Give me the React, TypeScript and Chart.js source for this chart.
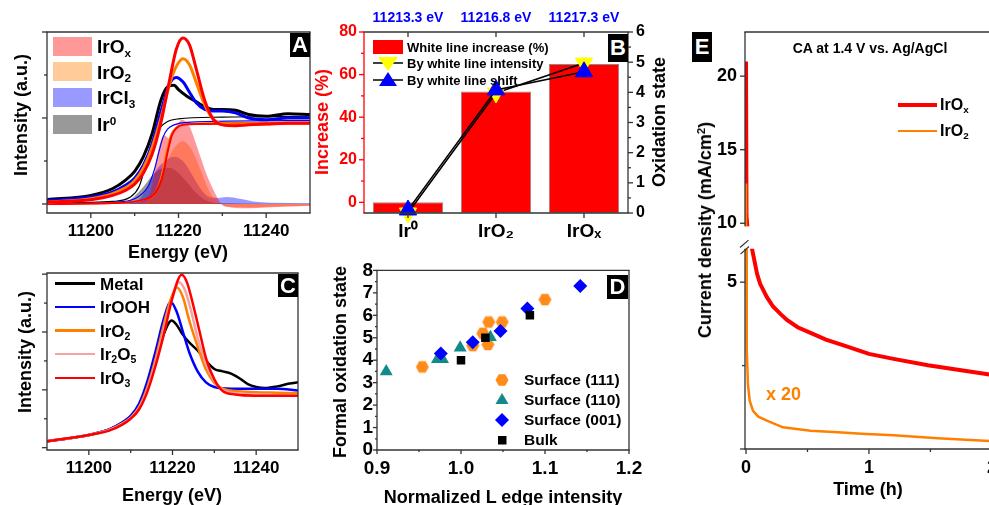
import React, { useEffect, useRef } from "react";
import { Chart, registerables } from "chart.js";
Chart.register(...registerables);

const FONT = "'Liberation Sans', Arial, Helvetica, sans-serif";
const AX = "#333";

// ---------------- Panel A : XANES ----------------
const aEnergyMain = [11190, 11200, 11205, 11208, 11210, 11212, 11214, 11216, 11218, 11219.5, 11221, 11222.5, 11224, 11226, 11228, 11230, 11233, 11236, 11240, 11245, 11250];
const aEnergyIr0 = [11190, 11200, 11205, 11208, 11210, 11212, 11214, 11216, 11217.5, 11219, 11220, 11222, 11224, 11226, 11228, 11230, 11233, 11236, 11240, 11245, 11250];
const aIr0 = [0.05, 0.1, 0.18, 0.28, 0.38, 0.55, 0.82, 1.21, 1.36, 1.38, 1.33, 1.25, 1.19, 1.13, 1.1, 1.1, 1.09, 1.04, 1.02, 1.05, 1.04];
const aIrCl3 = [0.04, 0.08, 0.14, 0.22, 0.3, 0.45, 0.7, 1.08, 1.4, 1.47, 1.42, 1.3, 1.18, 1.1, 1.08, 1.08, 1.06, 1.0, 0.98, 1.0, 1.0];
const aIrO2 = [0.02, 0.06, 0.12, 0.19, 0.27, 0.42, 0.66, 1.0, 1.4, 1.6, 1.69, 1.62, 1.42, 1.15, 0.98, 0.93, 0.92, 0.93, 0.93, 0.94, 0.94];
const aIrOx = [0.02, 0.05, 0.1, 0.16, 0.23, 0.36, 0.58, 0.95, 1.45, 1.8, 1.93, 1.85, 1.58, 1.2, 0.98, 0.92, 0.91, 0.92, 0.93, 0.94, 0.94];

const aStepIr0E = [11190, 11205, 11209, 11211, 11212.5, 11213.5, 11214.5, 11215.6, 11217.5, 11220, 11230, 11250];
const aStepIr0V = [0.01, 0.03, 0.08, 0.2, 0.45, 0.65, 0.8, 0.88, 0.96, 0.99, 1.01, 1.02];
const aStepIrCl3E = [11190, 11205, 11210, 11213, 11214.5, 11215.5, 11216.5, 11217.5, 11219, 11222, 11250];
const aStepIrCl3V = [0, 0.02, 0.06, 0.2, 0.4, 0.6, 0.78, 0.87, 0.92, 0.95, 0.97];
const aStepIrO2E = [11190, 11205, 11212, 11215, 11216.2, 11217.2, 11218.2, 11219.2, 11221, 11225, 11250];
const aStepIrO2V = [0, 0.01, 0.05, 0.15, 0.35, 0.6, 0.8, 0.88, 0.92, 0.94, 0.95];
const aStepIrOxE = [11190, 11205, 11212, 11215, 11216.5, 11217.5, 11218.5, 11219.5, 11221, 11225, 11250];
const aStepIrOxV = [0, 0.01, 0.05, 0.15, 0.35, 0.6, 0.8, 0.88, 0.92, 0.93, 0.94];

const aFillIrOxE = [11209, 11212, 11213.7, 11215.6, 11216.7, 11218, 11219.5, 11220.8, 11222.5, 11224, 11225, 11226.5, 11228, 11229.8, 11232, 11236, 11240, 11245, 11250];
const aFillIrOxV = [0, 0.04, 0.16, 0.67, 0.8, 0.76, 0.9, 0.98, 0.9, 0.7, 0.55, 0.33, 0.16, 0, -0.04, -0.05, -0.04, -0.03, -0.02];
const aFillIrO2E = [11210, 11213, 11215, 11217, 11219, 11221, 11223, 11225, 11227, 11229, 11231, 11236, 11242, 11250];
const aFillIrO2V = [0, 0.05, 0.2, 0.45, 0.65, 0.73, 0.63, 0.4, 0.15, 0.02, -0.03, -0.04, -0.03, -0.02];
const aFillIrCl3E = [11208, 11211, 11213, 11215, 11217, 11219, 11221, 11223, 11225, 11227, 11229, 11231, 11234, 11237, 11241, 11250];
const aFillIrCl3V = [0, 0.05, 0.2, 0.4, 0.5, 0.55, 0.5, 0.35, 0.18, 0.08, 0.07, 0.08, 0.06, 0.03, 0.015, 0.01];
const aFillIr0E = [11205, 11209, 11212, 11214, 11216, 11218, 11220, 11222, 11224, 11226, 11229, 11250];
const aFillIr0V = [0, 0.05, 0.2, 0.33, 0.41, 0.42, 0.36, 0.25, 0.13, 0.05, 0.01, 0];

const energyTicks = [11200, 11220, 11240];
const energyMinor = [11210, 11230];

// ---------------- Panel B ----------------
const bCategories = ["Ir\u2070", "IrO\u2082", "IrO\u2093"];
const bEdgeEnergies = ["11213.3 eV", "11216.8 eV", "11217.3 eV"];
const bIncrease = [0, 52, 65];
const bOxByIntensity = [0, 3.98, 4.97];
const bOxByShift = [0.1, 4.08, 4.68];
const bLeftTicks = [0, 20, 40, 60, 80];
const bRightTicks = [0, 1, 2, 3, 4, 5, 6];

// ---------------- Panel C ----------------
const cMetalE = [11190, 11200, 11205, 11208, 11210, 11212, 11214, 11216, 11218, 11219.8, 11221, 11222.5, 11224, 11226, 11228, 11230, 11232, 11234, 11236, 11238, 11240, 11242, 11245, 11248, 11250];
const cMetalV = [0.11, 0.22, 0.32, 0.43, 0.53, 0.72, 1.05, 1.5, 1.98, 2.2, 2.12, 1.95, 1.82, 1.68, 1.5, 1.36, 1.32, 1.28, 1.2, 1.1, 1.05, 1.03, 1.06, 1.11, 1.13];
const cIrOOHE = [11190, 11200, 11205, 11208, 11210, 11212, 11214, 11216, 11218, 11219.6, 11221, 11222.5, 11224, 11226, 11228, 11230, 11234, 11240, 11245, 11250];
const cIrOOHV = [0.11, 0.22, 0.32, 0.44, 0.55, 0.76, 1.15, 1.68, 2.25, 2.52, 2.35, 2.0, 1.65, 1.32, 1.13, 1.05, 1.02, 1.02, 1.02, 0.99];
const cIrO2E = [11190, 11200, 11205, 11208, 11210, 11212, 11214, 11216, 11218, 11219.5, 11221.1, 11222.5, 11224, 11226, 11228, 11230, 11232, 11235, 11240, 11245, 11250];
const cIrO2V = [0.11, 0.22, 0.31, 0.42, 0.52, 0.7, 1.05, 1.55, 2.15, 2.55, 2.77, 2.6, 2.2, 1.75, 1.35, 1.12, 1.02, 0.98, 0.96, 0.95, 0.94];
const cIr2O5E = [11190, 11200, 11205, 11208, 11210, 11212, 11214, 11216, 11218, 11220, 11221.5, 11223, 11224.5, 11226, 11228, 11230, 11232, 11235, 11240, 11250];
const cIr2O5V = [0.11, 0.22, 0.31, 0.41, 0.51, 0.68, 1.0, 1.48, 2.05, 2.6, 2.86, 2.72, 2.35, 1.9, 1.45, 1.15, 1.0, 0.94, 0.92, 0.9];
const cIrO3E = [11190, 11200, 11205, 11208, 11210, 11212, 11214, 11216, 11218, 11220, 11222.2, 11223.5, 11225, 11226.5, 11228, 11230, 11232, 11235, 11240, 11250];
const cIrO3V = [0.11, 0.22, 0.3, 0.4, 0.5, 0.66, 0.97, 1.43, 1.98, 2.6, 2.99, 2.85, 2.45, 2.0, 1.55, 1.18, 0.98, 0.92, 0.9, 0.9];

// ---------------- Panel D ----------------
const dS111X = [0.954, 1.014, 1.026, 1.032, 1.033, 1.049, 1.1];
const dS111Y = [3.7, 4.65, 5.2, 4.7, 5.7, 5.7, 6.7];
const dS110X = [0.911, 0.972, 0.978, 0.999, 1.035];
const dS110Y = [3.5, 4.04, 4.04, 4.55, 5.02];
const dS001X = [0.976, 1.014, 1.047, 1.079, 1.142];
const dS001Y = [4.3, 4.8, 5.3, 6.3, 7.3];
const dBulkX = [1.0, 1.029, 1.082];
const dBulkY = [4.0, 5.0, 6.0];
const dXTicks = [0.9, 1.0, 1.1, 1.2];
const dYTicks = [0, 1, 2, 3, 4, 5, 6, 7, 8];

// ---------------- Panel E ----------------
const eIrOxT = [0, 0.004, 0.049, 0.09, 0.115, 0.17, 0.22, 0.28, 0.333, 0.42, 0.525, 0.65, 0.8, 1.0, 1.2, 1.48, 1.75, 1.98, 2.03];
const eIrOxJ = [21, 10.5, 6.0, 5.25, 4.95, 4.55, 4.27, 4.05, 3.87, 3.65, 3.48, 3.28, 3.1, 2.85, 2.7, 2.51, 2.36, 2.23, 2.21];
const eIrO2T = [0, 0.002, 0.006, 0.016, 0.03, 0.057, 0.1, 0.17, 0.3, 0.525, 0.75, 0.94, 1.2, 1.56, 1.98, 2.03];
const eIrO2J = [12.7, 6.5, 3.0, 1.93, 1.45, 1.14, 0.97, 0.85, 0.65, 0.55, 0.5, 0.46, 0.41, 0.32, 0.24, 0.24];
const eTimeTicks = [0, 1, 2];
const eUpperTicks = [10, 15, 20];
const eLowerTicks = [5];

// ---------------- helpers ----------------
const pts = (xs: number[], ys: number[]) => xs.map((x, i) => ({ x, y: ys[i] }));
const fnt = (size: number) => ({ family: FONT, size, weight: "bold" as const });

const lineDs = (xs: number[], ys: number[], color: string, width: number, extra: any = {}) => ({
  type: "line",
  data: pts(xs, ys),
  borderColor: color,
  borderWidth: width,
  pointRadius: 0,
  cubicInterpolationMode: "monotone",
  fill: false,
  ...extra,
});
const fillDs = (xs: number[], ys: number[], color: string, order: number) =>
  lineDs(xs, ys, "rgba(0,0,0,0)", 0, { fill: "origin", backgroundColor: color, order });

function linAxis(pos: string, min: number, max: number, labeled: number[], size: number, pad: number, fit: number, fmt: (v: number) => string, color = "#000", showLabels = true, display = true) {
  const horiz = pos === "bottom" || pos === "top";
  return {
    type: "linear",
    position: pos,
    min,
    max,
    display,
    grid: { display: false, drawTicks: false },
    border: { display: false },
    ticks: { display: showLabels, font: fnt(size), color, padding: pad, maxRotation: 0, autoSkip: false, callback: (v: number) => fmt(v) },
    afterBuildTicks: (s: any) => {
      s.ticks = labeled.map((v) => ({ value: v }));
    },
    afterFit: (s: any) => {
      if (horiz) s.height = fit;
      else s.width = fit;
    },
  };
}

const framePlugin = {
  id: "frame",
  afterDraw(chart: any, _a: any, o: any) {
    const { ctx, chartArea: a } = chart;
    const w = o.width ?? 1.3;
    ctx.save();
    const seg = (x1: number, y1: number, x2: number, y2: number, c: string, lw = w) => {
      ctx.beginPath();
      ctx.strokeStyle = c;
      ctx.lineWidth = lw;
      ctx.moveTo(x1, y1);
      ctx.lineTo(x2, y2);
      ctx.stroke();
    };
    const s = o.sides || {};
    if (s.top) seg(a.left - w / 2, a.top, a.right + w / 2, a.top, s.top);
    if (s.bottom) seg(a.left - w / 2, a.bottom, a.right + w / 2, a.bottom, s.bottom);
    if (s.left) seg(a.left, a.top, a.left, a.bottom, s.left);
    if (s.right) seg(a.right, a.top, a.right, a.bottom, s.right);
    const ticks = o.ticks || [];
    for (let k = 0; k < ticks.length; k++) {
      const t = ticks[k];
      const sc = chart.scales[t.axis];
      const c = t.color || AX;
      const d = t.out ? 1 : -1;
      for (let i = 0; i < t.values.length; i++) {
        const p = sc.getPixelForValue(t.values[i]);
        if (t.side === "bottom") seg(p, a.bottom, p, a.bottom + d * t.len, c);
        else if (t.side === "top") seg(p, a.top, p, a.top - d * t.len, c);
        else if (t.side === "left") seg(a.left, p, a.left - d * t.len, p, c);
        else seg(a.right, p, a.right + d * t.len, p, c);
      }
    }
    if (o.breakTop) {
      for (const x of [a.left, a.right]) {
        seg(x - 5, a.top - 1.3, x + 3.5, a.top - 8.7, AX, 1.2);
        seg(x - 4.5, a.top + 5.3, x + 4, a.top - 2.3, AX, 1.2);
      }
    }
    if (o.topLabels) {
      const tl = o.topLabels;
      const sc = chart.scales[tl.axis];
      ctx.fillStyle = tl.color;
      ctx.font = `bold ${tl.size}px ${FONT}`;
      ctx.textAlign = "center";
      ctx.textBaseline = "middle";
      for (let i = 0; i < tl.texts.length; i++) ctx.fillText(tl.texts[i], sc.getPixelForValue(i), tl.y);
    }
    ctx.restore();
  },
};

const baseOpts = (padding: any, scales: any, frame: any) => ({
  responsive: false,
  animation: false,
  devicePixelRatio: 1,
  events: [],
  layout: { padding },
  scales,
  plugins: { legend: { display: false }, tooltip: { enabled: false }, title: { display: false }, frame },
});

function hexagonStyle(r: number, color: string) {
  const c = document.createElement("canvas");
  const s = Math.ceil(r * 2 + 2);
  c.width = s;
  c.height = s;
  const g = c.getContext("2d")!;
  g.fillStyle = color;
  g.beginPath();
  for (let i = 0; i < 6; i++) {
    const ang = (Math.PI / 3) * i;
    const x = s / 2 + r * Math.cos(ang);
    const y = s / 2 + r * Math.sin(ang);
    if (i === 0) g.moveTo(x, y);
    else g.lineTo(x, y);
  }
  g.closePath();
  g.fill();
  return c;
}

const Sub = ({ t }: { t: string }) => <span style={{ fontSize: "0.62em", position: "relative", top: "0.32em" }}>{t}</span>;
const Sup = ({ t }: { t: string }) => <span style={{ fontSize: "0.62em", position: "relative", top: "-0.5em" }}>{t}</span>;

const Txt = ({ x, y, size = 18, color = "#000", anchor = "center", rotate = false, children }: any) => (
  <div
    style={{
      position: "absolute",
      left: x,
      top: y,
      transform: `translate(${anchor === "center" ? "-50%" : anchor === "right" ? "-100%" : "0"}, -50%)${rotate ? " rotate(-90deg)" : ""}`,
      fontSize: size,
      color,
      whiteSpace: "nowrap",
      lineHeight: 1,
      fontWeight: 700,
    }}
  >
    {children}
  </div>
);

const Letter = ({ x, y, w, h, t }: any) => (
  <div style={{ position: "absolute", left: x, top: y, width: w, height: h, background: "#000", color: "#fff", fontSize: 22, fontWeight: 700, display: "flex", alignItems: "center", justifyContent: "center", lineHeight: 1 }}>{t}</div>
);

export default function App() {
  const refA = useRef<HTMLCanvasElement>(null);
  const refB = useRef<HTMLCanvasElement>(null);
  const refC = useRef<HTMLCanvasElement>(null);
  const refD = useRef<HTMLCanvasElement>(null);
  const refE1 = useRef<HTMLCanvasElement>(null);
  const refE2 = useRef<HTMLCanvasElement>(null);

  useEffect(() => {
    const charts: Chart[] = [];
    const fmtInt = (v: number) => String(v);

    // Panel A
    charts.push(
      new Chart(refA.current as any, {
        type: "line",
        data: {
          datasets: [
            lineDs(aEnergyMain, aIrOx, "#ff0000", 3, { order: 0 }),
            lineDs(aEnergyMain, aIrO2, "#ff8000", 3, { order: 1 }),
            lineDs(aEnergyMain, aIrCl3, "#0000ff", 3, { order: 2 }),
            lineDs(aEnergyIr0, aIr0, "#000000", 3, { order: 3 }),
            lineDs(aStepIrOxE, aStepIrOxV, "#ff0000", 2, { order: 4 }),
            lineDs(aStepIrO2E, aStepIrO2V, "#ff8000", 1.5, { order: 5 }),
            lineDs(aStepIrCl3E, aStepIrCl3V, "#0000ff", 1.2, { order: 6 }),
            lineDs(aStepIr0E, aStepIr0V, "#000000", 1.2, { order: 7 }),
            fillDs(aFillIrOxE, aFillIrOxV, "rgba(255,0,0,0.4)", 8),
            fillDs(aFillIrO2E, aFillIrO2V, "rgba(255,128,0,0.4)", 9),
            fillDs(aFillIrCl3E, aFillIrCl3V, "rgba(0,0,255,0.4)", 10),
            fillDs(aFillIr0E, aFillIr0V, "rgba(0,0,0,0.4)", 11),
          ] as any,
        },
        options: baseOpts(
          { left: 0, top: 32, right: 20, bottom: 0 },
          {
            x: linAxis("bottom", 11190, 11250, energyTicks, 17, 8, 37, fmtInt),
            y: linAxis("left", -0.105, 2.0, [0, 1, 2], 10, 0, 47, fmtInt, "#000", false),
          },
          {
            sides: { top: AX, bottom: AX, left: AX, right: AX },
            ticks: [
              { axis: "x", values: energyTicks, side: "bottom", len: 5, out: true },
              { axis: "x", values: energyMinor, side: "bottom", len: 3, out: true },
              { axis: "y", values: [0, 1, 2], side: "left", len: 5, out: true },
              { axis: "y", values: [0.5, 1.5], side: "left", len: 3, out: true },
            ],
          }
        ) as any,
        plugins: [framePlugin],
      })
    );

    // Panel B
    charts.push(
      new Chart(refB.current as any, {
        type: "bar",
        data: {
          labels: bCategories,
          datasets: [
            {
              type: "line",
              data: bOxByShift,
              yAxisID: "y2",
              borderColor: "#000",
              borderWidth: 1.5,
              pointStyle: "triangle",
              pointRadius: 10,
              pointBackgroundColor: "#0000ff",
              pointBorderColor: "#0000ff",
              pointBorderWidth: 1,
              clip: false,
              order: 0,
            },
            {
              type: "line",
              data: bOxByIntensity,
              yAxisID: "y2",
              borderColor: "#000",
              borderWidth: 1.5,
              pointStyle: "triangle",
              pointRotation: 180,
              pointRadius: 10,
              pointBackgroundColor: "#ffff00",
              pointBorderColor: "#ffff00",
              pointBorderWidth: 1,
              clip: false,
              order: 1,
            },
            {
              type: "bar",
              data: bIncrease,
              yAxisID: "y",
              base: -5,
              backgroundColor: "#ff0000",
              borderColor: "#8a8a8a",
              borderWidth: 1,
              borderSkipped: false,
              barPercentage: 0.8,
              categoryPercentage: 1,
              order: 2,
            },
          ] as any,
        },
        options: baseOpts(
          { left: 0, top: 32, right: 7, bottom: 0 },
          {
            x: {
              type: "category",
              offset: true,
              grid: { display: false, drawTicks: false },
              border: { display: false },
              ticks: { font: fnt(19), color: "#000", padding: 7, maxRotation: 0 },
              afterFit: (s: any) => {
                s.height = 42;
              },
            },
            y: linAxis("left", -5, 80, bLeftTicks, 16, 7, 44, fmtInt, "#ff0000"),
            y2: linAxis("right", 0, 6, bRightTicks, 16, 8, 30, fmtInt, "#000"),
          },
          {
            sides: { top: AX, bottom: AX, left: "#ff0000", right: AX },
            ticks: [
              { axis: "x", values: [0, 1, 2], side: "top", len: 5, out: false },
              { axis: "x", values: [0, 1, 2], side: "bottom", len: 5, out: true },
              { axis: "y", values: bLeftTicks, side: "left", len: 5, out: true, color: "#ff0000" },
              { axis: "y", values: [10, 30, 50, 70], side: "left", len: 3, out: true, color: "#ff0000" },
              { axis: "y2", values: bRightTicks, side: "right", len: 5, out: true },
              { axis: "y2", values: [0.5, 1.5, 2.5, 3.5, 4.5, 5.5], side: "right", len: 3, out: true },
            ],
            topLabels: { axis: "x", texts: bEdgeEnergies, y: 18, color: "#0000ff", size: 14 },
          }
        ) as any,
        plugins: [framePlugin],
      })
    );

    // Panel C
    charts.push(
      new Chart(refC.current as any, {
        type: "line",
        data: {
          datasets: [
            lineDs(cIrO3E, cIrO3V, "#ff0000", 2.5, { order: 0 }),
            lineDs(cIr2O5E, cIr2O5V, "#f7a1a1", 2.5, { order: 1 }),
            lineDs(cIrO2E, cIrO2V, "#ff8000", 2.5, { order: 2 }),
            lineDs(cIrOOHE, cIrOOHV, "#0000ff", 2.5, { order: 3 }),
            lineDs(cMetalE, cMetalV, "#000000", 2.5, { order: 4 }),
          ] as any,
        },
        options: baseOpts(
          { left: 0, top: 18, right: 22, bottom: 0 },
          {
            x: linAxis("bottom", 11190, 11250, energyTicks, 17, 8, 55, fmtInt),
            y: linAxis("left", -0.04, 3.02, [0, 1, 2, 3], 10, 0, 47, fmtInt, "#000", false),
          },
          {
            sides: { top: AX, bottom: AX, left: AX, right: AX },
            ticks: [
              { axis: "x", values: energyTicks, side: "bottom", len: 5, out: true },
              { axis: "x", values: energyMinor, side: "bottom", len: 3, out: true },
              { axis: "y", values: [0, 1, 2, 3], side: "left", len: 5, out: true },
              { axis: "y", values: [0.5, 1.5, 2.5], side: "left", len: 3, out: true },
            ],
          }
        ) as any,
        plugins: [framePlugin],
      })
    );

    // Panel D
    const hex = hexagonStyle(6.5, "#ff8c1a");
    charts.push(
      new Chart(refD.current as any, {
        type: "scatter",
        data: {
          datasets: [
            { data: pts(dBulkX, dBulkY), pointStyle: "rect", pointRadius: 6, backgroundColor: "#000", borderColor: "#000", borderWidth: 0, order: 0 },
            { data: pts(dS001X, dS001Y), pointStyle: "rectRot", pointRadius: 7, backgroundColor: "#0000ff", borderColor: "#0000ff", borderWidth: 0, order: 1 },
            { data: pts(dS110X, dS110Y), pointStyle: "triangle", pointRadius: 7.5, backgroundColor: "#138a8a", borderColor: "#138a8a", borderWidth: 0, order: 2 },
            { data: pts(dS111X, dS111Y), pointStyle: hex, pointRadius: 7, backgroundColor: "#ff8c1a", borderColor: "#ff8c1a", borderWidth: 0, order: 3 },
          ] as any,
        },
        options: baseOpts(
          { left: 0, top: 13, right: 21, bottom: 0 },
          {
            x: linAxis("bottom", 0.9, 1.2, dXTicks, 19, 7, 55, (v) => v.toFixed(1)),
            y: linAxis("left", 0, 8, dYTicks, 19, 4, 47, fmtInt),
          },
          {
            sides: { top: AX, bottom: AX, left: AX, right: AX },
            ticks: [
              { axis: "x", values: dXTicks, side: "bottom", len: 4, out: true },
              { axis: "x", values: [0.95, 1.05, 1.15], side: "bottom", len: 2, out: true },
              { axis: "y", values: dYTicks, side: "left", len: 4, out: true },
              { axis: "y", values: [0.5, 1.5, 2.5, 3.5, 4.5, 5.5, 6.5, 7.5], side: "left", len: 2, out: true },
            ],
          }
        ) as any,
        plugins: [framePlugin],
      })
    );

    // Panel E (broken axis: upper + lower)
    const eDatasets = () => [
      lineDs(eIrO2T, eIrO2J, "#ff8000", 2.5, { order: 0, clip: 0, cubicInterpolationMode: "default", tension: 0 }),
      lineDs(eIrOxT, eIrOxJ, "#ff0000", 4, { order: 1, clip: 0, cubicInterpolationMode: "default", tension: 0 }),
    ];
    charts.push(
      new Chart(refE1.current as any, {
        type: "line",
        data: { datasets: eDatasets() as any },
        options: baseOpts(
          { left: 0, top: 32, right: 10.5, bottom: 5 },
          {
            x: linAxis("bottom", -0.0081, 2.02, eTimeTicks, 17, 8, 0, fmtInt, "#000", false, false),
            y: linAxis("left", 9.8, 23.0, eUpperTicks, 18, 8, 85, fmtInt),
          },
          {
            sides: { top: AX, left: AX, right: AX },
            ticks: [{ axis: "y", values: eUpperTicks, side: "left", len: 5, out: true }],
          }
        ) as any,
        plugins: [framePlugin],
      })
    );
    charts.push(
      new Chart(refE2.current as any, {
        type: "line",
        data: { datasets: eDatasets() as any },
        options: baseOpts(
          { left: 0, top: 13, right: 10.5, bottom: 0 },
          {
            x: linAxis("bottom", -0.0081, 2.02, eTimeTicks, 18, 8, 56, fmtInt),
            y: linAxis("left", 0, 6.0, eLowerTicks, 18, 8, 85, fmtInt),
          },
          {
            sides: { bottom: AX, left: AX, right: AX },
            ticks: [
              { axis: "x", values: eTimeTicks, side: "bottom", len: 5, out: true },
              { axis: "x", values: [0.5, 1.5], side: "bottom", len: 3, out: true },
              { axis: "y", values: [0, 5], side: "left", len: 5, out: true },
              { axis: "y", values: [2.5], side: "left", len: 3, out: true },
            ],
            breakTop: true,
          }
        ) as any,
        plugins: [framePlugin],
      })
    );

    return () => charts.forEach((c) => c.destroy());
  }, []);

  const abs = (l: number, t: number): React.CSSProperties => ({ position: "absolute", left: l, top: t });

  const triDown = (cx: number, cy: number, color: string) => (
    <polygon points={`${cx - 10},${cy - 6} ${cx + 10},${cy - 6} ${cx},${cy + 8}`} fill={color} />
  );
  const triUp = (cx: number, cy: number, color: string) => (
    <polygon points={`${cx - 9},${cy + 6} ${cx + 9},${cy + 6} ${cx},${cy - 8}`} fill={color} />
  );

  return (
    <div style={{ position: "fixed", left: 0, top: 0, width: 989, height: 505, overflow: "hidden", background: "#fff", fontFamily: FONT, fontWeight: 700 }}>
      <canvas ref={refA} width={330} height={250} style={abs(0, 0)} />
      <canvas ref={refB} width={345} height={255} style={abs(320, 0)} />
      <canvas ref={refC} width={320} height={250} style={abs(0, 255)} />
      <canvas ref={refD} width={320} height={250} style={abs(330, 255)} />
      <canvas ref={refE1} width={345} height={245} style={abs(660, 0)} />
      <canvas ref={refE2} width={345} height={275} style={abs(660, 230)} />

      {/* Panel A overlays */}
      <Txt x={21} y={115} rotate size={18}>Intensity (a.u.)</Txt>
      <Txt x={178} y={252} size={18}>Energy (eV)</Txt>
      <Letter x={290} y={33} w={20} h={24} t="A" />
      {[
        { c: "#ff9999", l: <>IrO<Sub t="x" /></>, y: 46 },
        { c: "#ffcc99", l: <>IrO<Sub t="2" /></>, y: 71.5 },
        { c: "#9999ff", l: <>IrCl<Sub t="3" /></>, y: 97 },
        { c: "#999999", l: <>Ir<Sup t="0" /></>, y: 124 },
      ].map((r, i) => (
        <React.Fragment key={i}>
          <div style={{ position: "absolute", left: 53, top: r.y - 9.5, width: 39, height: 19, background: r.c }} />
          <Txt x={97} y={r.y} anchor="left" size={19}>{r.l}</Txt>
        </React.Fragment>
      ))}

      {/* Panel B overlays */}
      <Txt x={322} y={122} rotate size={18} color="#ff0000">Increase (%)</Txt>
      <Txt x={659} y={122} rotate size={18}>Oxidation state</Txt>
      <Letter x={608} y={34} w={20} h={28} t="B" />
      <div style={{ position: "absolute", left: 373, top: 39.5, width: 30, height: 14, background: "#ff0000" }} />
      <Txt x={407} y={46.5} anchor="left" size={13}>White line increase (%)</Txt>
      <svg style={abs(370, 54)} width={36} height={34}>
        <line x1={3} y1={9} x2={33} y2={9} stroke="#000" strokeWidth={1.5} />
        {triDown(18, 9, "#ffff00")}
        <line x1={3} y1={26} x2={33} y2={26} stroke="#000" strokeWidth={1.5} />
        {triUp(18, 26, "#0000ff")}
      </svg>
      <Txt x={407} y={63} anchor="left" size={13}>By white line intensity</Txt>
      <Txt x={407} y={80} anchor="left" size={13}>By white line shift</Txt>

      {/* Panel C overlays */}
      <Txt x={25} y={352} rotate size={18}>Intensity (a.u.)</Txt>
      <Txt x={172} y={495} size={18}>Energy (eV)</Txt>
      <Letter x={278} y={274} w={20} h={23} t="C" />
      {[
        { c: "#000000", l: <>Metal</>, y: 283.5 },
        { c: "#0000ff", l: <>IrOOH</>, y: 307 },
        { c: "#ff8000", l: <>IrO<Sub t="2" /></>, y: 330.5 },
        { c: "#f7a1a1", l: <>Ir<Sub t="2" />O<Sub t="5" /></>, y: 354 },
        { c: "#ff0000", l: <>IrO<Sub t="3" /></>, y: 378 },
      ].map((r, i) => (
        <React.Fragment key={i}>
          <div style={{ position: "absolute", left: 55, top: r.y - 1.25, width: 40, height: 2.5, background: r.c }} />
          <Txt x={100} y={r.y} anchor="left" size={17}>{r.l}</Txt>
        </React.Fragment>
      ))}

      {/* Panel D overlays */}
      <Txt x={340} y={362} rotate size={18}>Formal oxidation state</Txt>
      <Txt x={503} y={497} size={18}>Normalized L edge intensity</Txt>
      <Letter x={607} y={275} w={21} h={24} t="D" />
      <svg style={abs(490, 368)} width={24} height={84}>
        <polygon points={[0, 1, 2, 3, 4, 5].map((i) => `${12 + 6.5 * Math.cos((Math.PI / 3) * i)},${12 + 6.5 * Math.sin((Math.PI / 3) * i)}`).join(" ")} fill="#ff8c1a" />
        <polygon points="5.5,36 18.5,36 12,25" fill="#138a8a" />
        <polygon points="12,45 19,52 12,59 5,52" fill="#0000ff" />
        <rect x={8} y={68} width={8.5} height={8.5} fill="#000" />
      </svg>
      <Txt x={524} y={380} anchor="left" size={15.5}>Surface (111)</Txt>
      <Txt x={524} y={400} anchor="left" size={15.5}>Surface (110)</Txt>
      <Txt x={524} y={420} anchor="left" size={15.5}>Surface (001)</Txt>
      <Txt x={524} y={440} anchor="left" size={15.5}>Bulk</Txt>

      {/* Panel E overlays */}
      <Letter x={692} y={32} w={20} h={30} t="E" />
      <Txt x={705} y={230} rotate size={18}>Current density (mA/cm<Sup t="2" />)</Txt>
      <Txt x={868} y={489} size={18}>Time (h)</Txt>
      <Txt x={870} y={47.5} size={14}>CA at 1.4 V vs. Ag/AgCl</Txt>
      <div style={{ position: "absolute", left: 898, top: 103, width: 39, height: 4, background: "#ff0000" }} />
      <div style={{ position: "absolute", left: 898, top: 129.5, width: 39, height: 2.5, background: "#ff8000" }} />
      <Txt x={940} y={105} anchor="left" size={16}>IrO<Sub t="x" /></Txt>
      <Txt x={940} y={131} anchor="left" size={16}>IrO<Sub t="2" /></Txt>
      <Txt x={766} y={394} anchor="left" size={18} color="#ff8000">x 20</Txt>
    </div>
  );
}
